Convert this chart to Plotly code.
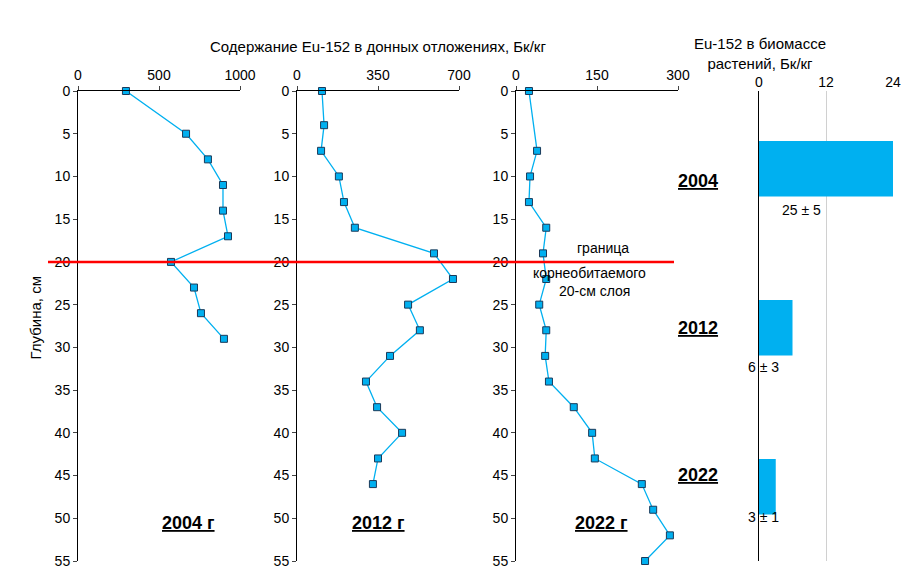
import plotly.graph_objects as go

depth_2004 = [0, 5, 8, 11, 14, 17, 20, 23, 26, 29]
eu_2004 = [296, 667, 802, 895, 895, 926, 574, 716, 759, 901]
depth_2012 = [0, 4, 7, 10, 13, 16, 19, 22, 25, 28, 31, 34, 37, 40, 43, 46]
eu_2012 = [108, 117, 104, 181, 203, 250, 592, 674, 480, 531, 402, 298, 346, 454, 350, 328]
depth_2022 = [0, 7, 10, 13, 16, 19, 22, 25, 28, 31, 34, 37, 40, 43, 46, 49, 52, 55]
eu_2022 = [24, 39, 26, 24, 56, 50, 56, 43, 56, 54, 61, 107, 141, 146, 233, 254, 285, 239]
bio_years = ["2004", "2012", "2022"]
bio_values = [25, 6, 3]
bio_labels = ["25 ± 5", "6 ± 3", "3 ± 1"]
bio_depth = [9.1, 27.7, 46.3]

W, H = 909, 568
def px(x): return x / W
def py(y): return 1 - y / H
ydom = [py(553), py(83)]
FONT = "Liberation Sans, Arial, sans-serif"
fig = go.Figure()
blue = "#00B0F0"
panels = [(eu_2004, depth_2004, 70, 232, [0, 1000], [0, 500, 1000]),
          (eu_2012, depth_2012, 289, 451, [0, 700], [0, 350, 700]),
          (eu_2022, depth_2022, 508, 670, [0, 300], [0, 150, 300])]
for i, (xv, yv, x0, x1, rng, tv) in enumerate(panels, start=1):
    s = "" if i == 1 else str(i)
    fig.add_trace(go.Scatter(x=xv, y=yv, mode="lines+markers", xaxis="x" + s, yaxis="y" + s,
                             line=dict(color=blue, width=1.3),
                             marker=dict(symbol="square", size=7, color=blue, line=dict(color="#1a3a5a", width=1)),
                             showlegend=False, cliponaxis=False))
    fig.layout["xaxis" + s] = dict(domain=[px(x0), px(x1)], range=rng, tickvals=tv, side="top",
                                   anchor="y" + s, showgrid=False, zeroline=False, ticks="outside",
                                   ticklen=4, showline=True, linecolor="black", tickfont=dict(size=14),
                                   automargin=False)
    fig.layout["yaxis" + s] = dict(domain=ydom, range=[55, 0], tickvals=list(range(0, 56, 5)),
                                   anchor="x" + s, showgrid=False, zeroline=False, ticks="outside",
                                   ticklen=4, showline=True, linecolor="black", tickfont=dict(size=14),
                                   automargin=False)

fig.add_trace(go.Bar(x=bio_values, y=bio_depth, orientation="h", width=6.5, marker=dict(color=blue, line=dict(width=0)),
                     xaxis="x4", yaxis="y4", showlegend=False))
fig.layout["xaxis4"] = dict(domain=[px(751), px(885)], range=[0, 24], tickvals=[0, 12, 24], side="top",
                            anchor="y4", showgrid=True, gridcolor="#d0d0d0", zeroline=False, ticks="",
                            showline=False, tickfont=dict(size=14), automargin=False)
fig.layout["yaxis4"] = dict(domain=ydom, range=[55, 0], anchor="x4", showgrid=False, zeroline=False,
                            showticklabels=False, showline=True, linecolor="black", ticks="", automargin=False)

anns = [
    dict(x=px(370), y=py(28), text="Содержание Eu-152 в донных отложениях, Бк/кг", font=dict(size=15)),
    dict(x=px(820), y=py(25), text="Eu-152 в биомассе<br>растений, Бк/кг", font=dict(size=15)),
    dict(x=px(16), y=py(310), text="Глубина, см", textangle=-90, font=dict(size=15)),
    dict(x=px(152), y=py(527), text="<b><u>2004 г</u></b>", font=dict(size=18)),
    dict(x=px(370), y=py(527), text="<b><u>2012 г</u></b>", font=dict(size=18)),
    dict(x=px(593), y=py(527), text="<b><u>2022 г</u></b>", font=dict(size=18)),
    dict(x=px(623), y=py(240), text="граница", font=dict(size=14)),
    dict(x=px(640), y=py(265), text="корнеобитаемого", font=dict(size=14)),
    dict(x=px(624), y=py(283), text="20-см слоя", font=dict(size=14)),
]
for yr, yy in zip(bio_years, [161, 320, 479]):
    anns.append(dict(x=px(712), y=py(yy), text="<b><u>" + yr + "</u></b>", font=dict(size=18)))
for lab, xx, yy in zip(bio_labels, [815, 773, 773], [202, 359, 519]):
    anns.append(dict(x=px(xx), y=py(yy), text=lab, font=dict(size=14)))
for a in anns:
    a.update(xref="paper", yref="paper", showarrow=False)
    a["font"]["color"] = "black"

fig.update_layout(width=W, height=H, margin=dict(l=0, r=0, t=0, b=0, pad=0), plot_bgcolor="white",
                  paper_bgcolor="white", font=dict(family=FONT, color="black"), annotations=anns,
                  shapes=[dict(type="line", xref="paper", yref="y", x0=px(40), x1=px(666), y0=20, y1=20,
                               line=dict(color="#FF0000", width=2.5))])
fig.write_html("out.html")
